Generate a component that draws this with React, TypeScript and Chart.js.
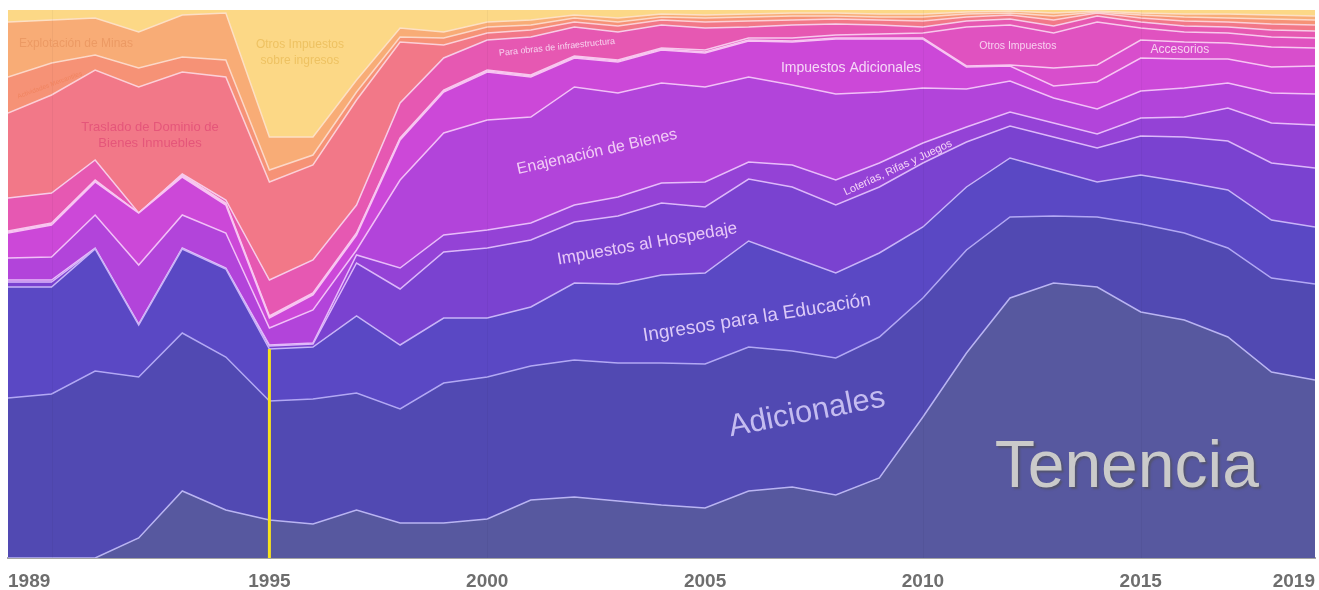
import React, { useEffect, useRef } from "react";
import { Chart, registerables } from "chart.js";

Chart.register(...registerables);

// ---- Data (relative shares of each concept per year; normalised to 100% per year) ----
const YEARS = [1989, 1990, 1991, 1992, 1993, 1994, 1995, 1996, 1997, 1998, 1999, 2000, 2001, 2002, 2003, 2004, 2005, 2006, 2007, 2008, 2009, 2010, 2011, 2012, 2013, 2014, 2015, 2016, 2017, 2018, 2019];
const TICK_YEARS = [1989, 1995, 2000, 2005, 2010, 2015, 2019];
const MARK_YEAR = 1995;

const tenencia = [0, 0, 0, 20, 67, 48, 38, 34, 48, 35, 35, 39, 58, 61, 57, 53, 50, 67, 71, 63, 80, 141, 205, 260, 275, 271, 246, 238, 221, 186, 178];
const adicionales = [160, 164, 187, 161, 158, 153, 119, 125, 117, 114, 140, 142, 134, 137, 138, 142, 144, 144, 136, 137, 141, 119, 103, 81, 67, 70, 88, 87, 89, 94, 96];
const educacion = [111, 107, 122, 52, 84, 88, 52, 52, 77, 64, 65, 59, 59, 77, 79, 88, 91, 106, 94, 85, 84, 71, 63, 59, 46, 35, 49, 51, 58, 58, 57];
const hospedaje = [5, 5, 0, 0, 0, 0, 3, 3, 53, 56, 66, 70, 67, 61, 68, 72, 66, 62, 70, 68, 66, 64, 45, 32, 33, 34, 39, 45, 49, 57, 59];
const loterias = [2, 2, 1, 1, 1, 1, 1, 1, 8, 21, 17, 18, 17, 17, 19, 20, 25, 17, 22, 25, 24, 20, 15, 14, 14, 14, 18, 20, 33, 40, 43];
const enajenacion = [22, 23, 33, 59, 33, 35, 17, 33, 5, 88, 102, 110, 106, 118, 104, 100, 95, 85, 80, 86, 71, 55, 38, 31, 25, 25, 27, 29, 25, 30, 31];
const impAdicionales = [25, 32, 33, 52, 38, 28, 10, 15, 15, 40, 41, 48, 40, 29, 31, 33, 34, 36, 43, 55, 53, 49, 22, 15, 12, 27, 33, 29, 24, 26, 28];
const accesorios = [1, 1, 1, 0, 1, 1, 1, 1, 1, 1, 1, 1, 1, 1, 1, 1, 1, 1, 1, 1, 1, 1, 1, 1, 18, 17, 18, 17, 16, 20, 18];
const otrosImpuestos = [1, 1, 1, 0, 1, 1, 1, 1, 1, 1, 1, 1, 1, 1, 1, 1, 2, 2, 3, 3, 4, 5, 39, 40, 35, 43, 12, 10, 10, 10, 10];
const obrasInfra = [33, 30, 20, 0, 1, 3, 36, 33, 28, 35, 32, 30, 38, 29, 28, 23, 22, 11, 13, 11, 9, 6, 6, 6, 7, 6, 6, 6, 6, 7, 7];
const traslado = [85, 98, 90, 126, 102, 123, 98, 95, 105, 61, 13, 7, 7, 5, 6, 5, 6, 6, 5, 5, 5, 6, 4, 4, 6, 3, 4, 5, 5, 6, 6];
const mercantiles = [36, 32, 15, 19, 15, 17, 12, 10, 8, 5, 7, 6, 5, 4, 4, 3, 4, 4, 4, 3, 3, 4, 3, 2, 4, 1, 3, 4, 4, 5, 5];
const minas = [55, 43, 37, 36, 42, 47, 33, 18, 12, 9, 6, 5, 5, 3, 4, 3, 3, 3, 3, 3, 3, 3, 2, 2, 3, 1, 2, 3, 4, 4, 4];
const otrosIngresos = [12, 10, 8, 22, 5, 3, 127, 127, 70, 18, 22, 12, 10, 5, 8, 4, 5, 4, 3, 3, 4, 4, 2, 1, 3, 1, 3, 4, 4, 5, 6];

const SERIES = [
  { name: "Tenencia", values: tenencia, color: "#57589f", line: "#b9b4f2" },
  { name: "Adicionales", values: adicionales, color: "#5149b2", line: "#b2a8f4" },
  { name: "Ingresos para la Educación", values: educacion, color: "#5a48c4", line: "#c8b4f8" },
  { name: "Impuestos al Hospedaje", values: hospedaje, color: "#7a42d0", line: "#dcb8fa" },
  { name: "Loterías, Rifas y Juegos", values: loterias, color: "#9442d6", line: "#e8bcfa" },
  { name: "Enajenación de Bienes", values: enajenacion, color: "#b244da", line: "#f2c0f8" },
  { name: "Impuestos Adicionales", values: impAdicionales, color: "#cc48d8", line: "#f8c4f4" },
  { name: "Accesorios", values: accesorios, color: "#d84ecc", line: "#f8c8f0" },
  { name: "Otros Impuestos", values: otrosImpuestos, color: "#e052c0", line: "#f8c8ec" },
  { name: "Para obras de infraestructura", values: obrasInfra, color: "#e658b2", line: "#f8cce8" },
  { name: "Traslado de Dominio de Bienes Inmuebles", values: traslado, color: "#f27888", line: "#fcd0d8" },
  { name: "Actividades Mercantiles", values: mercantiles, color: "#f69276", line: "#fcd8c8" },
  { name: "Explotación de Minas", values: minas, color: "#f8ac76", line: "#fde0c4" },
  { name: "Otros Impuestos sobre ingresos", values: otrosIngresos, color: "#fcd886", line: "#fce8b0" },
];

const LABELS = [
  { text: ["Explotación de Minas"], x: 1990.56, y: 93.8, rot: 0, size: 12, color: "#ec9a64" },
  { text: ["Actividades Mercantiles"], x: 1989.96, y: 86.3, rot: -20, size: 6.5, color: "#f08460" },
  { text: ["Traslado de Dominio de", "Bienes Inmuebles"], x: 1992.26, y: 77.2, rot: 0, size: 13, color: "#e5567a", lh: 16 },
  { text: ["Otros Impuestos", "sobre ingresos"], x: 1995.7, y: 92.3, rot: 0, size: 12, color: "#eec262", lh: 16 },
  { text: ["Para obras de infraestructura"], x: 2001.6, y: 93.2, rot: -6, size: 9, color: "#f8d4f0" },
  { text: ["Impuestos Adicionales"], x: 2008.35, y: 89.4, rot: 0, size: 14, color: "#f6d8f8" },
  { text: ["Otros Impuestos"], x: 2012.18, y: 93.4, rot: 0, size: 10.5, color: "#f8d0f0" },
  { text: ["Accesorios"], x: 2015.9, y: 92.7, rot: 0, size: 12, color: "#f8d0f0" },
  { text: ["Enajenación de Bienes"], x: 2002.52, y: 74.1, rot: -12.5, size: 16, color: "#f2ccf6" },
  { text: ["Loterías, Rifas y Juegos"], x: 2009.43, y: 71.2, rot: -25, size: 11, color: "#f4d4f8" },
  { text: ["Impuestos al Hospedaje"], x: 2003.67, y: 57.3, rot: -10, size: 17, color: "#e8c8f8" },
  { text: ["Ingresos para la Educación"], x: 2006.19, y: 43.8, rot: -9, size: 19, color: "#dccaf8" },
  { text: ["Adicionales"], x: 2007.34, y: 26.5, rot: -11, size: 31, color: "#c4bcf0" },
  { text: ["Tenencia"], x: 2014.68, y: 13.0, rot: 0, size: 66, color: "#cacaca", baseline: "alphabetic", shadow: true },
];

const FONT = "'Liberation Sans', Arial, Helvetica, sans-serif";

const labelsPlugin = {
  id: "areaLabels",
  afterDatasetsDraw(chart: any) {
    const { ctx, scales } = chart;
    const xs = scales.x;
    const ys = scales.y;
    // faint grid over areas
    ctx.save();
    ctx.strokeStyle = "rgba(0,0,0,0.035)";
    ctx.lineWidth = 1;
    [1990, 2000, 2010, 2015].forEach((yr) => {
      const px = Math.round(xs.getPixelForValue(yr)) + 0.5;
      ctx.beginPath();
      ctx.moveTo(px, ys.top);
      ctx.lineTo(px, ys.bottom);
      ctx.stroke();
    });
    ctx.restore();

    // yellow marker line
    const totals = YEARS.map((_, i) => SERIES.reduce((s, d) => s + d.values[i], 0));
    const mi = YEARS.indexOf(MARK_YEAR);
    const cum = ((SERIES[0].values[mi] + SERIES[1].values[mi] + SERIES[2].values[mi]) / totals[mi]) * 100;
    const mx = xs.getPixelForValue(MARK_YEAR);
    ctx.save();
    ctx.strokeStyle = "#f7e31c";
    ctx.lineWidth = 3;
    ctx.beginPath();
    ctx.moveTo(mx, ys.getPixelForValue(cum));
    ctx.lineTo(mx, ys.bottom);
    ctx.stroke();
    ctx.restore();

    LABELS.forEach((l: any) => {
      const px = xs.getPixelForValue(l.x);
      const py = ys.getPixelForValue(l.y);
      ctx.save();
      ctx.translate(px, py);
      ctx.rotate((l.rot * Math.PI) / 180);
      ctx.font = `${l.size}px ${FONT}`;
      ctx.textAlign = "center";
      ctx.textBaseline = l.baseline || "middle";
      ctx.fillStyle = l.color;
      if (l.shadow) {
        ctx.shadowColor = "rgba(80,80,70,0.55)";
        ctx.shadowOffsetX = 2;
        ctx.shadowOffsetY = 2;
        ctx.shadowBlur = 2;
      }
      const lh = l.lh || l.size * 1.2;
      const n = l.text.length;
      l.text.forEach((t: string, k: number) => {
        ctx.fillText(t, 0, (k - (n - 1) / 2) * lh);
      });
      ctx.restore();
    });
  },
};

export default function App() {
  const ref = useRef<HTMLCanvasElement | null>(null);

  useEffect(() => {
    if (!ref.current) return;
    const totals = YEARS.map((_, i) => SERIES.reduce((s, d) => s + d.values[i], 0));
    const datasets = SERIES.map((s, k) => ({
      label: s.name,
      data: YEARS.map((yr, i) => ({ x: yr, y: (s.values[i] / totals[i]) * 100 })),
      backgroundColor: s.color,
      borderColor: s.line,
      borderWidth: k === SERIES.length - 1 ? 0 : 1.5,
      fill: k === 0 ? "origin" : "-1",
      pointRadius: 0,
      tension: 0,
    }));

    const chart = new Chart(ref.current, {
      type: "line",
      data: { datasets },
      plugins: [labelsPlugin],
      options: {
        animation: false,
        responsive: false,
        layout: { padding: { left: 8, right: 4, top: 10, bottom: 0 } },
        plugins: { legend: { display: false }, tooltip: { enabled: false } },
        scales: {
          x: {
            type: "linear",
            min: 1989,
            max: 2019,
            afterBuildTicks: (scale: any) => {
              scale.ticks = TICK_YEARS.map((v) => ({ value: v }));
            },
            afterFit: (scale: any) => {
              scale.height = 32;
              scale.paddingLeft = 0;
              scale.paddingRight = 0;
            },
            grid: { display: false, drawTicks: false },
            border: { display: true, color: "#a4a4a4", width: 2 },
            ticks: {
              align: "inner",
              autoSkip: false,
              maxRotation: 0,
              padding: 12,
              color: "#6e6e6e",
              font: { family: FONT, size: 19, weight: "bold" },
              callback: (v: any) => String(v),
            },
          },
          y: { stacked: true, min: 0, max: 100, display: false },
        },
      },
    } as any);
    return () => chart.destroy();
  }, []);

  return (
    <div style={{ position: "absolute", left: 0, top: 0, width: 1319, height: 590, background: "#fff" }}>
      <canvas ref={ref} width={1319} height={590} style={{ display: "block" }} />
    </div>
  );
}
